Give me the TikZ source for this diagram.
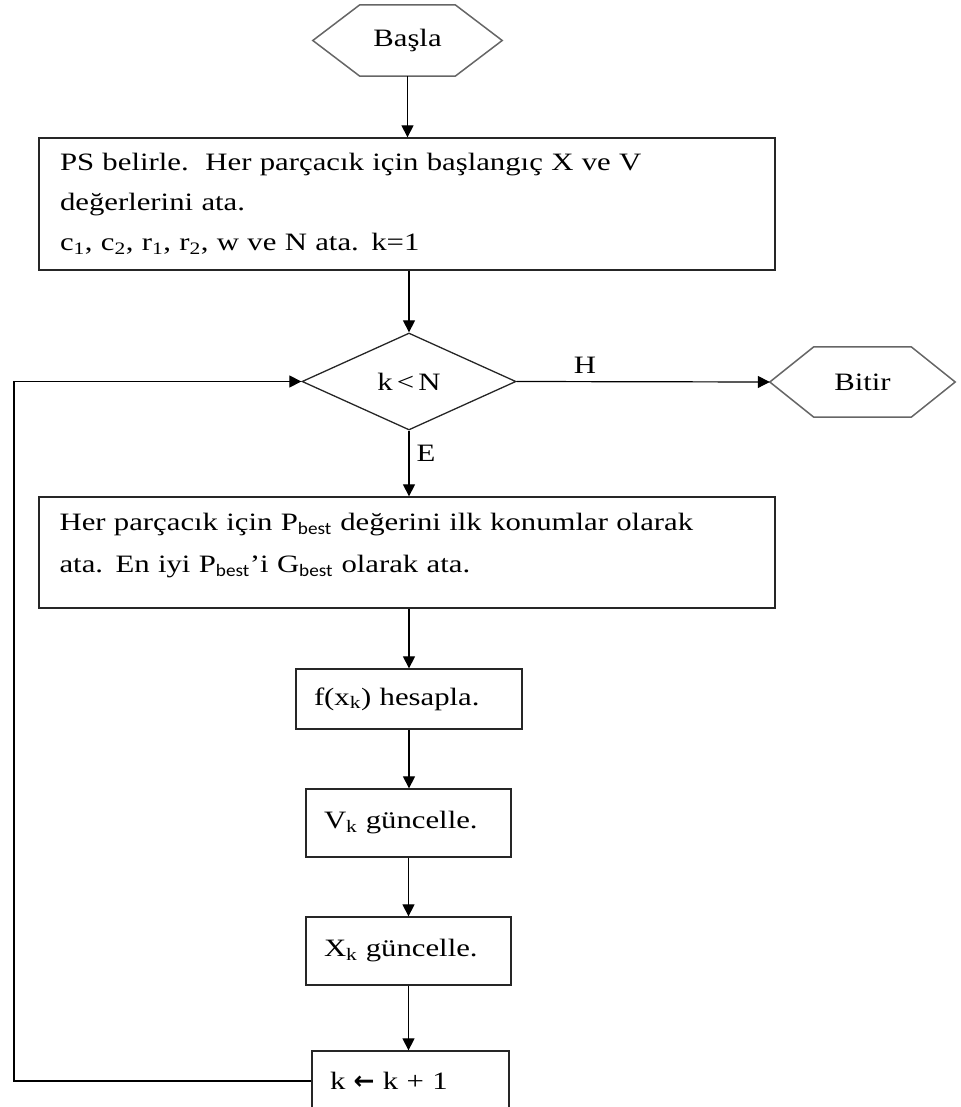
\documentclass[tikz,border=0pt]{standalone}
\usepackage{fontspec}
\setmainfont[FakeStretch=1.23]{Liberation Serif}
\newfontfamily\subsans[FakeStretch=1.1]{Carlito}
\newfontfamily\symfont{DejaVu Sans}
\usetikzlibrary{shapes.geometric,arrows.meta}
\newcommand{\bst}{\textsubscript{\subsans best}}
\begin{document}
\begin{tikzpicture}[x=1pt,y=-1pt,
  font=\fontsize{25}{40}\selectfont,
  box/.style={draw=black!85, line width=1.3pt, rectangle, inner sep=0pt},
  hexn/.style={rectangle, draw=none, inner sep=0pt},
  hexline/.style={draw=black!60, line width=1.5pt},
  arr/.style={line width=1.2pt, -{Triangle[length=12pt,width=12pt]}},
  plain/.style={line width=1.2pt},
  lbl/.style={inner sep=0pt}]
\useasboundingbox (0,0) rectangle (960,1107);
% start
\node[hexn, minimum width=189pt, minimum height=71pt] (start) at (407.5,40.5) {Başla};
\draw[hexline] (start.west) -- ([xshift=47pt]start.north west) -- ([xshift=-47pt]start.north east)
  -- (start.east) -- ([xshift=-47pt]start.south east) -- ([xshift=47pt]start.south west) -- cycle;
% init box
\node[box, minimum width=736pt, minimum height=132pt, text width=694pt, align=left] (init) at (407,204)
  {PS belirle.\ \ Her parçacık için başlangıç X ve V\\
   değerlerini ata.\\
   c\textsubscript{1}, c\textsubscript{2}, r\textsubscript{1}, r\textsubscript{2}, w ve N ata. k=1};
% condition
\node[diamond, draw=black!85, line width=1.3pt, minimum width=214pt, minimum height=97pt, inner sep=0pt] (cond) at (409,381.5) {k\,<\,N};
% end
\node[hexn, minimum width=185pt, minimum height=70pt] (stop) at (862.5,382) {Bitir};
\draw[hexline] (stop.west) -- ([xshift=44pt]stop.north west) -- ([xshift=-44pt]stop.north east)
  -- (stop.east) -- ([xshift=-44pt]stop.south east) -- ([xshift=44pt]stop.south west) -- cycle;
% pbest box
\node[box, minimum width=736pt, minimum height=111pt] (pbest) at (407,552.5) {};
\node[lbl, anchor=north west, text width=694pt, align=left, font=\fontsize{25}{42}\selectfont] (pbtext) at ([xshift=21pt,yshift=-17pt]pbest.north west)
  {Her parçacık için P\bst{} değerini ilk konumlar olarak\\
   ata. En iyi P\bst’i G\bst{} olarak ata.};
% small boxes
\node[box, minimum width=226pt, minimum height=60pt, text width=190pt, align=left] (fx) at (409,699) {f(x\textsubscript{k}) hesapla.};
\node[box, minimum width=205pt, minimum height=68pt, text width=169pt, align=left] (vk) at (408.5,823) {V\textsubscript{k} güncelle.};
\node[box, minimum width=205pt, minimum height=68pt, text width=169pt, align=left] (xk) at (408.5,951) {X\textsubscript{k} güncelle.};
\node[box, minimum width=197pt, minimum height=60pt, text width=161pt, align=left] (kk) at (410.5,1081) {k {\symfont\bfseries ←} k + 1};
\coordinate (loopx) at (14,0);
% connectors
\draw[arr] (start.south) -- (start.south |- init.north);
\draw[arr] (init.south -| cond.north) -- (cond.north);
\draw[arr] (cond.east) -- (stop.west) node[lbl, pos=0.27, above=8pt] (hlab) {H};
\draw[arr] (cond.south) -- (cond.south |- pbest.north) node[lbl, pos=0.34, anchor=west, xshift=7pt] (elab) {E};
\draw[arr] (pbest.south -| fx.north) -- (fx.north);
\draw[arr] (fx.south) -- (fx.south |- vk.north);
\draw[arr] (vk.south) -- (vk.south |- xk.north);
\draw[arr] (xk.south) -- (xk.south |- kk.north);
\draw[arr] (kk.west) -- (kk.west -| loopx) |- (cond.west);
\end{tikzpicture}
\end{document}
